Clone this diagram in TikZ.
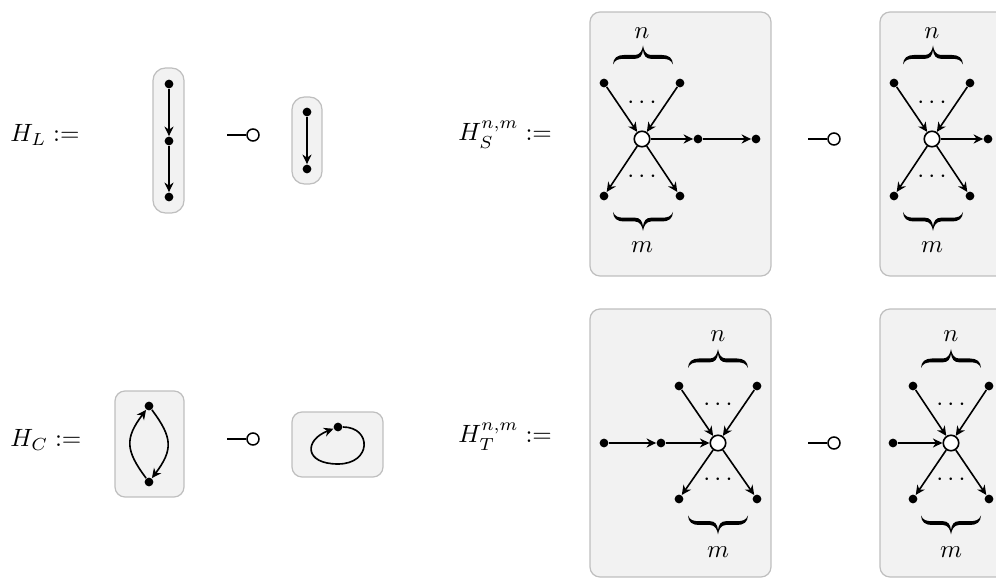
\documentclass[tikz,border=0pt]{standalone}
\usetikzlibrary{arrows.meta}
\tikzset{
  bracepic/.pic={
    \fill[black] (-30,9.5) .. controls (-29.6,3) and (-26,0) .. (-19,0) -- (-8,0)
      .. controls (-3,0) and (-0.8,-4.5) .. (0,-9.5)
      .. controls (0.8,-4.5) and (3,0) .. (8,0) -- (19,0)
      .. controls (26,0) and (29.6,3) .. (30,9.5)
      .. controls (28,5) and (25,3.8) .. (19,3.8) -- (8,3.8)
      .. controls (3,3.8) and (0.6,0.5) .. (0,-5)
      .. controls (-0.6,0.5) and (-3,3.8) .. (-8,3.8) -- (-19,3.8)
      .. controls (-25,3.8) and (-28,5) .. (-30,9.5) -- cycle;
  }
}
\begin{document}
\begin{tikzpicture}[x=0.4pt,y=-0.4pt,
  dot/.style={circle,fill=black,inner sep=0pt,minimum size=3.5pt},
  hub/.style={circle,draw=black,fill=white,inner sep=0pt,minimum size=6.2pt,line width=0.65pt},
  arr/.style={-{Stealth[length=3.8pt,width=3.6pt,inset=1.2pt]},line width=0.65pt},
  panel/.style={draw=black!25,fill=black!5,line width=0.5pt,rounded corners=4pt},
  lbl/.style={inner sep=0pt},
  mmcirc/.style={circle,draw=black,fill=white,inner sep=0pt,minimum size=4.8pt,line width=0.6pt},
  mmline/.style={line width=0.6pt}]
\useasboundingbox (0,0) rectangle (996,579);
\clip (0,0) rectangle (996,579);

% ---------- H_L ----------
\node[lbl,anchor=base west] (tHL) at (10,142) {$H_L :=$};
\draw[panel,rounded corners=5pt] (153,68) rectangle (184,213);
\node[dot] (l1) at (169,84) {};
\node[dot] (l2) at (169,141) {};
\node[dot] (l3) at (169,197) {};
\draw[arr] (l1) -- (l2);
\draw[arr] (l2) -- (l3);
\coordinate (mm1s) at (227,135);
\node[mmcirc] (mm1c) at (253,135) {};
\draw[mmline] (mm1s) -- (mm1c);
\draw[panel,rounded corners=5pt] (292,97) rectangle (322,184);
\node[dot] (k1) at (307,112) {};
\node[dot] (k2) at (307,169) {};
\draw[arr] (k1) -- (k2);

% ---------- H_C ----------
\node[lbl,anchor=base west] (tHC) at (10,447) {$H_C :=$};
\draw[panel] (115,391) rectangle (184,497);
\node[dot] (cT) at (149,406) {};
\node[dot] (cB) at (149,482) {};
\draw[arr] (cB) .. controls (125,450) and (125,438) .. (cT);
\draw[arr] (cT) .. controls (173,438) and (173,450) .. (cB);
\coordinate (mm2s) at (227,439);
\node[mmcirc] (mm2c) at (253,439) {};
\draw[mmline] (mm2s) -- (mm2c);
\draw[panel] (292,412) rectangle (383,477);
\node[dot] (o1) at (338,427) {};
\coordinate (ob) at (338,464);
\draw[arr] (o1) .. controls (372,427) and (372,464) .. (ob)
               .. controls (304,464) and (304,440) .. (o1);

% ---------- H_S ----------
\node[lbl,anchor=base west] (tHS) at (458,141) {$H_S^{n,m} :=$};
% box 1
\draw[panel] (590,12) rectangle (771,276);
\node[hub] (h1) at (642,139) {};
\node[dot] (a1) at (604,83) {};
\node[dot] (b1) at (680,83) {};
\node[dot] (c1) at (604,196) {};
\node[dot] (d1) at (680,196) {};
\node[dot] (e1) at (698,139) {};
\node[dot] (f1) at (756,139) {};
\draw[arr] (a1) -- (h1);
\draw[arr] (b1) -- (h1);
\draw[arr] (h1) -- (c1);
\draw[arr] (h1) -- (d1);
\draw[arr] (h1) -- (e1);
\draw[arr] (e1) -- (f1);
\node[lbl,anchor=base] (n1) at (642,38.4) {$n$};
\pic at (643,55) {bracepic};
\node[lbl,anchor=base] (u1) at (642,108.25) {$\cdots$};
\node[lbl,anchor=base] (w1) at (642,182.25) {$\cdots$};
\pic[yscale=-1] at (643,221.5) {bracepic};
\node[lbl,anchor=base] (m1) at (642,252.4) {$m$};
% box 2
\draw[panel] (880,12) rectangle (1010,276);
\node[hub] (h2) at (932,139) {};
\node[dot] (a2) at (894,83) {};
\node[dot] (b2) at (970,83) {};
\node[dot] (c2) at (894,196) {};
\node[dot] (d2) at (970,196) {};
\node[dot] (e2) at (988,139) {};
\draw[arr] (a2) -- (h2);
\draw[arr] (b2) -- (h2);
\draw[arr] (h2) -- (c2);
\draw[arr] (h2) -- (d2);
\draw[arr] (h2) -- (e2);
\node[lbl,anchor=base] (n2) at (932,38.4) {$n$};
\pic at (933,55) {bracepic};
\node[lbl,anchor=base] (u2) at (932,108.25) {$\cdots$};
\node[lbl,anchor=base] (w2) at (932,182.25) {$\cdots$};
\pic[yscale=-1] at (933,221.5) {bracepic};
\node[lbl,anchor=base] (m2) at (932,252.4) {$m$};
\coordinate (mm3s) at (808,139);
\node[mmcirc] (mm3c) at (834,139) {};
\draw[mmline] (mm3s) -- (mm3c);

% ---------- H_T ----------
\node[lbl,anchor=base west] (tHT) at (458,443) {$H_T^{n,m} :=$};
% box 1
\draw[panel] (590,309) rectangle (771,577);
\node[hub] (h3) at (718,443) {};
\node[dot] (a3) at (679,386) {};
\node[dot] (b3) at (757,386) {};
\node[dot] (c3) at (679,499) {};
\node[dot] (d3) at (757,499) {};
\node[dot] (g3) at (604,443) {};
\node[dot] (e3) at (661,443) {};
\draw[arr] (a3) -- (h3);
\draw[arr] (b3) -- (h3);
\draw[arr] (h3) -- (c3);
\draw[arr] (h3) -- (d3);
\draw[arr] (g3) -- (e3);
\draw[arr] (e3) -- (h3);
\node[lbl,anchor=base] (n3) at (718,341.4) {$n$};
\pic at (718,358.5) {bracepic};
\node[lbl,anchor=base] (u3) at (718,410.25) {$\cdots$};
\node[lbl,anchor=base] (w3) at (718,485.25) {$\cdots$};
\pic[yscale=-1] at (718,525) {bracepic};
\node[lbl,anchor=base] (m3) at (718,557.4) {$m$};
% box 2
\draw[panel] (880,309) rectangle (1010,577);
\node[hub] (h4) at (951,443) {};
\node[dot] (a4) at (913,386) {};
\node[dot] (b4) at (989,386) {};
\node[dot] (c4) at (913,499) {};
\node[dot] (d4) at (989,499) {};
\node[dot] (g4) at (893,443) {};
\draw[arr] (a4) -- (h4);
\draw[arr] (b4) -- (h4);
\draw[arr] (h4) -- (c4);
\draw[arr] (h4) -- (d4);
\draw[arr] (g4) -- (h4);
\node[lbl,anchor=base] (n4) at (951,341.4) {$n$};
\pic at (951,358.5) {bracepic};
\node[lbl,anchor=base] (u4) at (951,410.25) {$\cdots$};
\node[lbl,anchor=base] (w4) at (951,485.25) {$\cdots$};
\pic[yscale=-1] at (951,525) {bracepic};
\node[lbl,anchor=base] (m4) at (951,557.4) {$m$};
\coordinate (mm4s) at (808,443);
\node[mmcirc] (mm4c) at (834,443) {};
\draw[mmline] (mm4s) -- (mm4c);
\end{tikzpicture}
\end{document}
